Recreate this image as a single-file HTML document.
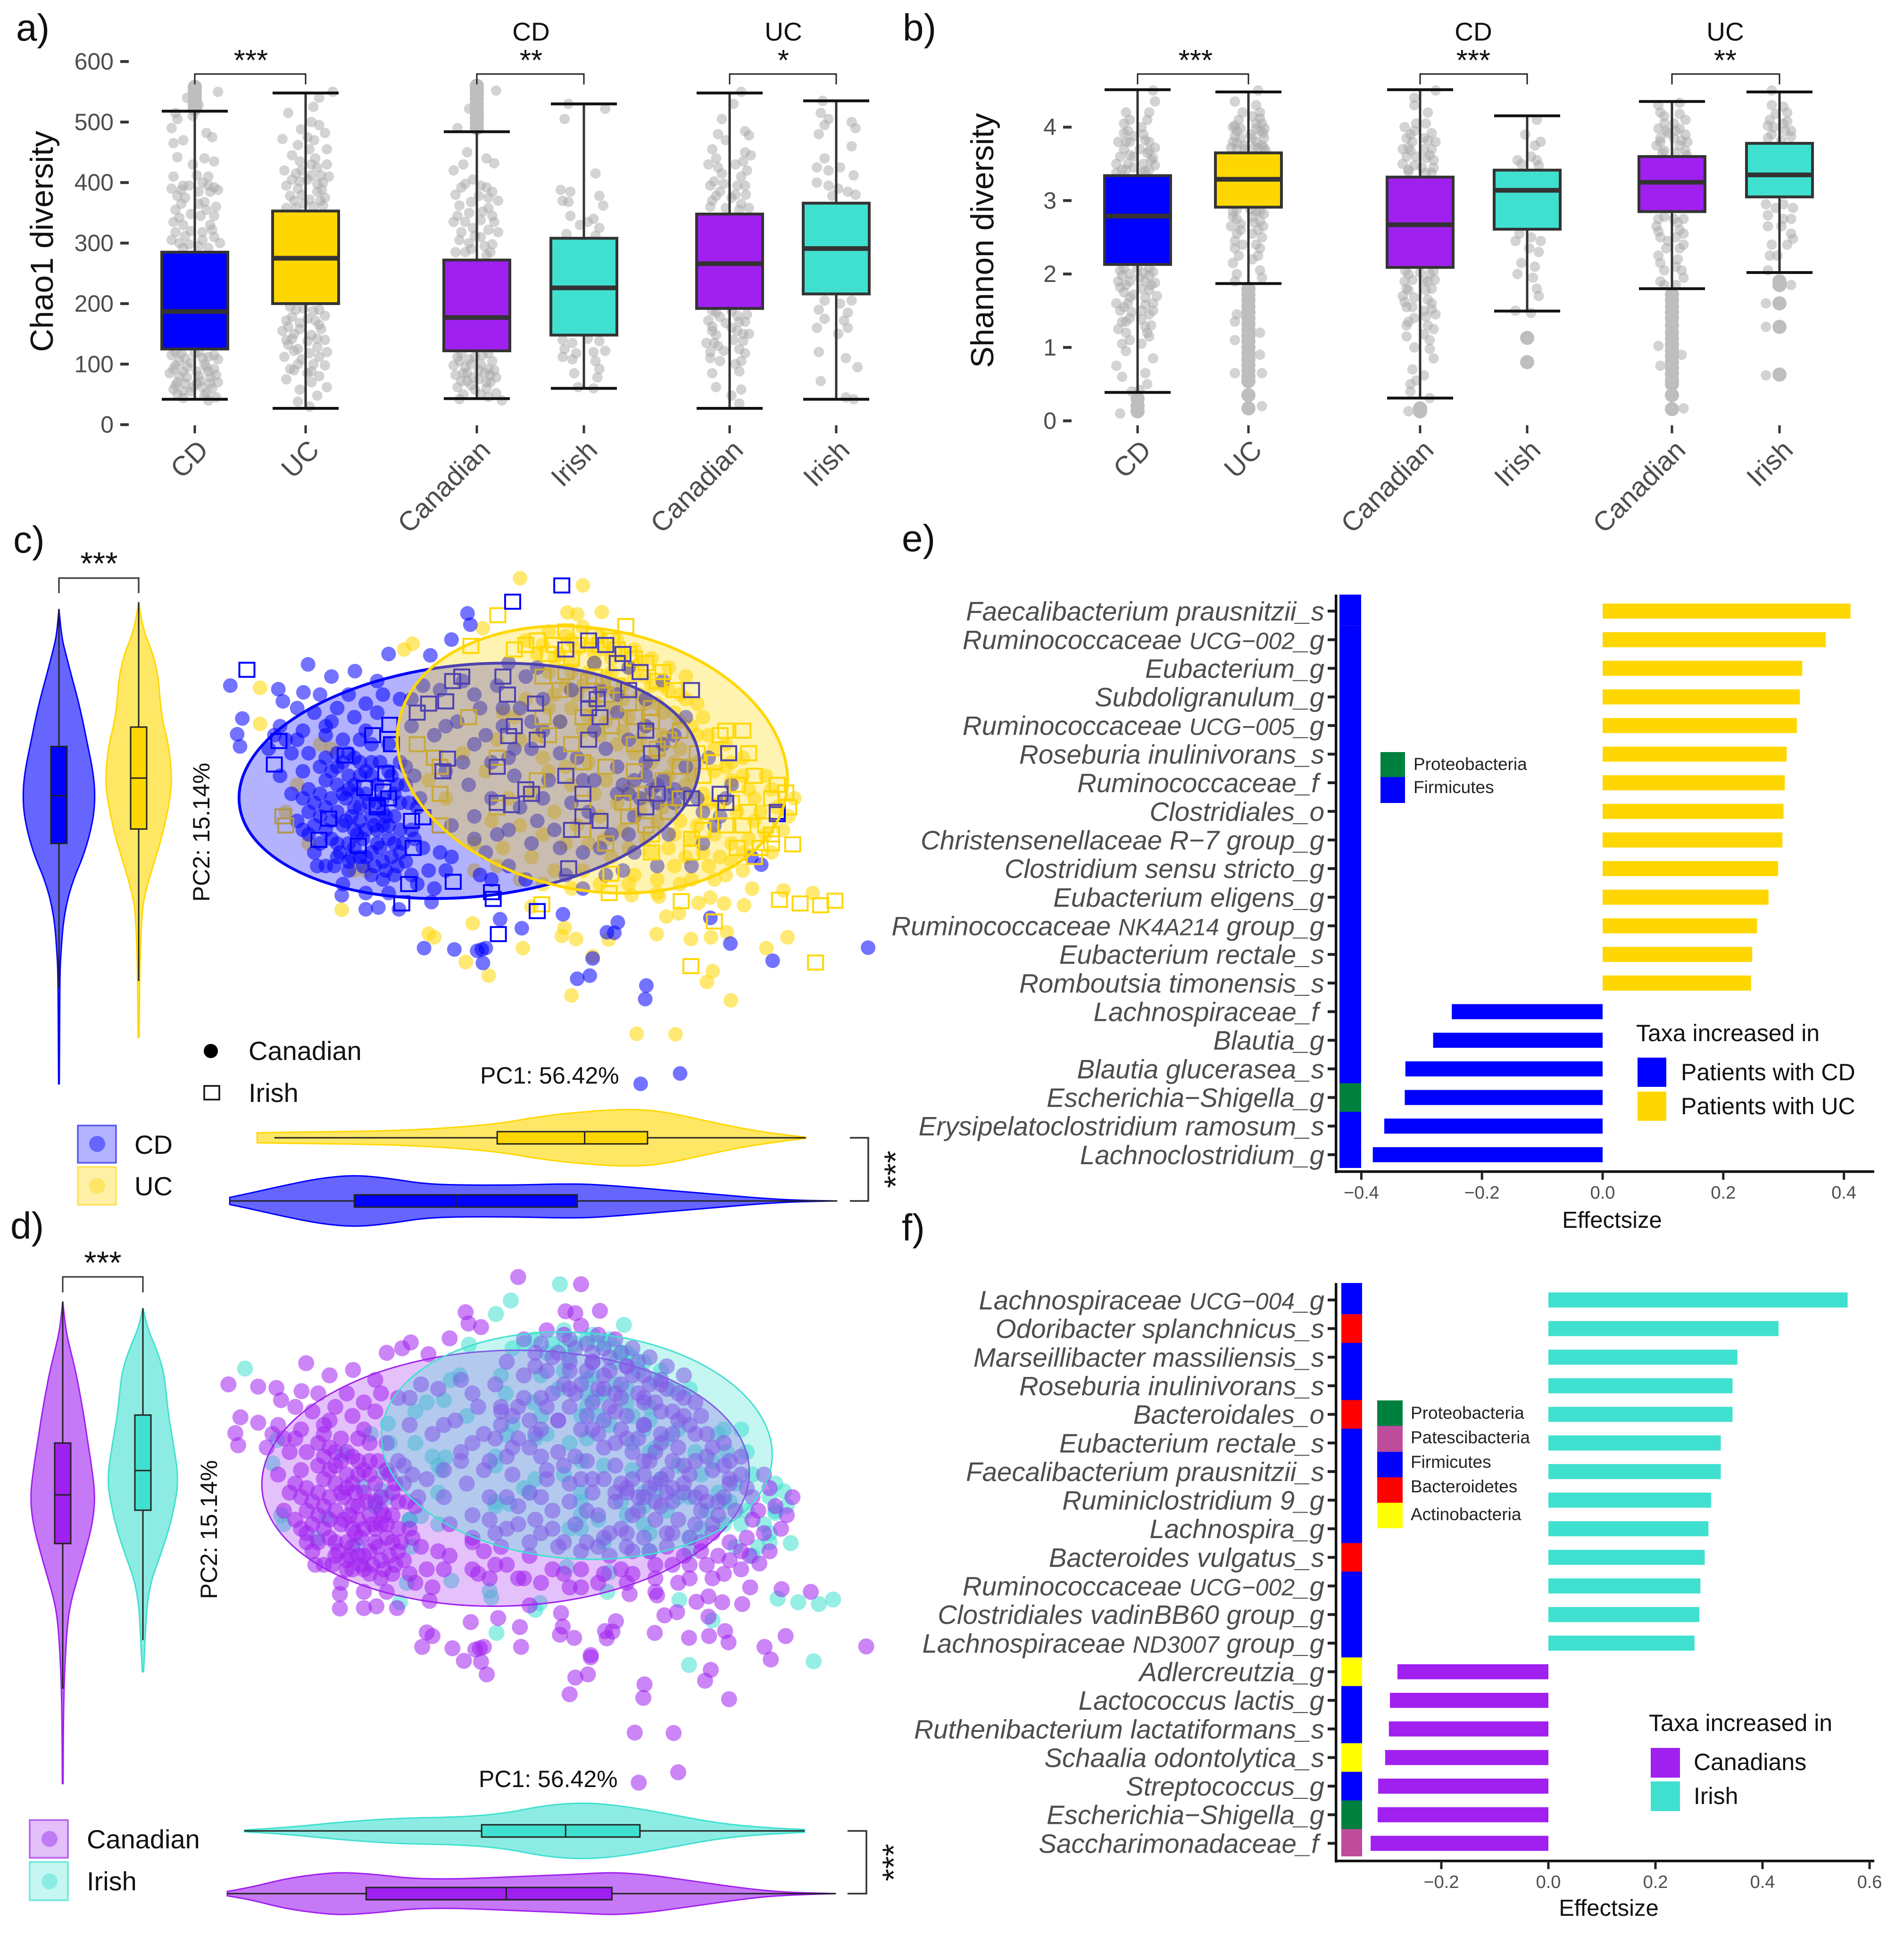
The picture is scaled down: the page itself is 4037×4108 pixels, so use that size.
<!DOCTYPE html>
<html lang="en">
<head>
<meta charset="utf-8">
<title>Diversity, PCoA and effect size figure</title>
<style>
html,body{margin:0;padding:0;background:#fff;}
svg{display:block;font-family:"Liberation Sans",sans-serif;}
.pl{font-size:80px;fill:#111;}
.gt{font-size:55px;fill:#111;text-anchor:middle;}
.st{font-size:62px;fill:#111;text-anchor:middle;}
.sl{font-size:68px;fill:#111;text-anchor:middle;}
.yt{font-size:68px;fill:#111;text-anchor:middle;}
.pc{font-size:50px;fill:#111;}
.lg{font-size:56px;fill:#111;}
.tx{font-size:37px;fill:#222;}
.ti{font-size:50px;fill:#111;}
.tl{font-size:50px;fill:#111;}
.ef{font-size:49px;fill:#111;text-anchor:middle;}
</style>
</head>
<body>
<svg id="fig" xmlns="http://www.w3.org/2000/svg" width="4037" height="4108" viewBox="0 0 4037 4108">
<rect width="4037" height="4108" fill="#fff"/>

<g id="panelA"></g>
<g id="panelB"></g>
<g id="panelC"></g>
<g id="panelD"></g>
<g id="panelE"></g>
<g id="panelF"></g>

<!-- panel letters -->
<text class="pl" x="34" y="86">a)</text>
<text class="pl" x="1914" y="86">b)</text>
<text class="pl" x="28" y="1172">c)</text>
<text class="pl" x="22" y="2627">d)</text>
<text class="pl" x="1912" y="1169">e)</text>
<text class="pl" x="1912" y="2631">f)</text>

<!-- a titles -->
<text class="yt" transform="translate(112,512) rotate(-90)">Chao1 diversity</text>
<text class="gt" x="1126" y="86">CD</text>
<text class="gt" x="1661" y="86">UC</text>
<text class="st" x="532" y="149">***</text>
<text class="st" x="1126" y="149">**</text>
<text class="st" x="1661" y="149">*</text>
<path d="M413 179V157H648V179" fill="none" stroke="#222" stroke-width="3"/>
<path d="M1011 179V157H1238V179" fill="none" stroke="#222" stroke-width="3"/>
<path d="M1547 179V157H1773V179" fill="none" stroke="#222" stroke-width="3"/>

<!-- b titles -->
<text class="yt" transform="translate(2106,510) rotate(-90)">Shannon diversity</text>
<text class="gt" x="3124" y="86">CD</text>
<text class="gt" x="3658" y="86">UC</text>
<text class="st" x="2535" y="149">***</text>
<text class="st" x="3124" y="149">***</text>
<text class="st" x="3658" y="149">**</text>
<path d="M2412 179V157H2647V179" fill="none" stroke="#222" stroke-width="3"/>
<path d="M3011 179V157H3238V179" fill="none" stroke="#222" stroke-width="3"/>
<path d="M3545 179V157H3773V179" fill="none" stroke="#222" stroke-width="3"/>

<!-- c annotations -->
<text class="sl" x="210" y="1218">***</text>
<path d="M125 1258V1226H294V1258" fill="none" stroke="#444" stroke-width="3.5"/>
<text class="pc" text-anchor="middle" transform="translate(444,1765) rotate(-90)">PC2: 15.14%</text>
<text class="pc" x="1018" y="2298">PC1: 56.42%</text>
<circle cx="447" cy="2229" r="15" fill="#000"/>
<text class="lg" x="527" y="2248">Canadian</text>
<rect x="433" y="2303" width="32" height="29" fill="none" stroke="#111" stroke-width="3.5"/>
<text class="lg" x="527" y="2337">Irish</text>
<rect x="165" y="2387" width="81" height="79" fill="#b3b3ff" stroke="#5a5af0" stroke-width="3.5"/>
<circle cx="206" cy="2426" r="17" fill="#6666ff"/>
<text class="lg" x="285" y="2447">CD</text>
<rect x="165" y="2475" width="81" height="80" fill="#fff0a8" stroke="#ffe25c" stroke-width="3.5"/>
<circle cx="206" cy="2515" r="17" fill="#ffe566"/>
<text class="lg" x="285" y="2535">UC</text>
<path d="M1802 2413H1841V2547H1802" fill="none" stroke="#333" stroke-width="3.5"/>
<text class="sl" transform="translate(1922,2480) rotate(-90)">***</text>

<!-- d annotations -->
<text class="sl" x="218" y="2701">***</text>
<path d="M133 2741V2708H303V2741" fill="none" stroke="#333" stroke-width="3"/>
<text class="pc" text-anchor="middle" transform="translate(460,3244) rotate(-90)">PC2: 15.14%</text>
<text class="pc" x="1015" y="3790">PC1: 56.42%</text>
<rect x="63" y="3860" width="81" height="80" fill="#e3c0fa" stroke="#b761f0" stroke-width="3.5"/>
<circle cx="105" cy="3900" r="17" fill="#c07af5"/>
<text class="lg" x="184" y="3920">Canadian</text>
<rect x="63" y="3949" width="81" height="81" fill="#c6f6f1" stroke="#6be8da" stroke-width="3.5"/>
<circle cx="105" cy="3990" r="17" fill="#8cece3"/>
<text class="lg" x="184" y="4009">Irish</text>
<path d="M1797 3883H1837V4016H1797" fill="none" stroke="#333" stroke-width="3.5"/>
<text class="sl" transform="translate(1918,3950) rotate(-90)">***</text>

<!-- e annotations -->
<text class="ef" x="3418" y="2604">Effectsize</text>
<rect x="2927" y="1595" width="52" height="53" fill="#00803f"/>
<rect x="2927" y="1648" width="52" height="55" fill="#0000ff"/>
<text class="tx" x="2997" y="1633">Proteobacteria</text>
<text class="tx" x="2997" y="1682">Firmicutes</text>
<text class="ti" x="3469" y="2208">Taxa increased in</text>
<rect x="3472" y="2243" width="61" height="62" fill="#0000ff"/>
<rect x="3472" y="2315" width="61" height="62" fill="#ffd700"/>
<text class="tl" x="3564" y="2291">Patients with CD</text>
<text class="tl" x="3564" y="2363">Patients with UC</text>

<!-- f annotations -->
<text class="ef" x="3411" y="4063">Effectsize</text>
<rect x="2920" y="2970" width="54" height="54" fill="#00803f"/>
<rect x="2920" y="3024" width="54" height="55" fill="#bf4b9b"/>
<rect x="2920" y="3079" width="54" height="54" fill="#0000ff"/>
<rect x="2920" y="3133" width="54" height="54" fill="#ff0000"/>
<rect x="2920" y="3187" width="54" height="54" fill="#ffff00"/>
<text class="tx" x="2991" y="3009">Proteobacteria</text>
<text class="tx" x="2991" y="3061">Patescibacteria</text>
<text class="tx" x="2991" y="3113">Firmicutes</text>
<text class="tx" x="2991" y="3165">Bacteroidetes</text>
<text class="tx" x="2991" y="3224">Actinobacteria</text>
<text class="ti" x="3496" y="3671">Taxa increased in</text>
<rect x="3500" y="3707" width="62" height="63" fill="#a020f0"/>
<rect x="3500" y="3778" width="62" height="63" fill="#40e0d0"/>
<text class="tl" x="3591" y="3754">Canadians</text>
<text class="tl" x="3591" y="3826">Irish</text>
</svg>

<script>
/* ---------- box plot data ---------- */
const groupLabels = ['CD','UC','Canadian','Irish','Canadian','Irish'];
const chaoTicks = [0,100,200,300,400,500,600];
const shannonTicks = [0,1,2,3,4];
const chaoLow = [42,27,43,60,27,42];
const chaoQ1 = [125,200,122,148,192,216];
const chaoMedian = [187,275,177,226,266,291];
const chaoQ3 = [285,353,272,308,348,366];
const chaoHigh = [518,548,484,530,548,535];
const shannonLow = [0.387,1.87,0.31,1.495,1.80,2.02];
const shannonQ1 = [2.13,2.91,2.09,2.61,2.85,3.05];
const shannonMedian = [2.79,3.29,2.67,3.14,3.25,3.35];
const shannonQ3 = [3.34,3.65,3.32,3.415,3.60,3.78];
const shannonHigh = [4.51,4.48,4.51,4.155,4.35,4.48];
const chaoOutliers = [[522,528,534,540,546,552,558],[],[490,498,506,514,522,530,538,546,554,560],[],[],[]];
const shannonOutliers = [[0.3,0.2,0.13],[1.8,1.72,1.64,1.56,1.48,1.4,1.32,1.24,1.16,1.08,1,0.92,0.84,0.76,0.68,0.6,0.54,0.35,0.17],[0.17,0.13],[1.13,0.8],[1.72,1.64,1.56,1.48,1.4,1.3,1.2,1.12,1.04,0.96,0.88,0.8,0.72,0.64,0.56,0.5,0.35,0.16],[1.9,1.85,1.6,1.28,0.63]];
const chaoJitter = [
[[-.5,515],[-.6,490],[-.55,465],[.3,482],[.45,475],[.6,550],[-.45,442],[-.2,540],[.1,528],[-.05,510],[.35,410],[.5,435],[-.55,410],[-.3,395],[.1,385],[.4,385],[.6,388],[-.6,390],[-.5,355],[-.35,365],[.25,368],[.55,360],[-.55,335],[-.3,330],[.15,345],[.4,330],[-.6,305],[-.4,300],[.2,305],[.5,310],[.65,300],[-.1,320],
[-.6,115],[-.35,118],[.1,120],[.35,112],[.6,108],[-.5,98],[-.2,95],[.25,100],[.5,92],[-.65,85],[-.4,80],[.05,88],[.4,78],[.6,70],[-.5,65],[-.25,68],[.15,72],[.45,60],[-.45,50],[-.1,55],[.25,48],[.55,45],[-.3,44],[.35,40],
[-.3,292],[-.15,298],[.1,295],[.35,292],[-.5,318],[-.25,312],[.2,318],[.45,322],[-.4,342],[-.1,348],[.3,355],[.5,345],[-.25,375],[.1,365],[-.45,378],[.35,395],[.5,392],[-.35,388],[-.15,395],[.05,412],[.2,400],[-.05,430],[.25,440],[-.3,470],[-.45,505],
[-.5,120],[-.25,110],[0,118],[.2,110],[.5,115],[-.4,105],[-.1,102],[.3,95],[-.55,92],[-.3,88],[.1,80],[.35,88],[.55,82],[-.2,78],[-.45,70],[.2,62],[.4,68],[-.05,62],[-.3,55],[.05,68],[.3,52],[-.55,58]],
[[.7,550],[.35,540],[.2,525],[-.45,515],[.15,500],[.35,495],[.5,482],[-.6,472],[-.2,462],[.05,475],[.25,440],[.55,455],[-.35,445],[-.15,435],[.3,425],[.55,430],[-.55,420],[-.25,415],[.05,405],[.45,400],[.6,410],[-.5,395],[-.2,390],[.3,385],[.5,375],[-.3,370],[.1,372],[.45,362],[-.5,358],
[-.25,190],[.2,188],[.5,180],[-.5,172],[-.15,168],[.35,165],[-.6,155],[-.3,150],[.15,148],[.5,140],[-.45,132],[-.2,125],[.3,128],[.55,120],[-.55,112],[-.1,108],[.2,100],[.5,98],[-.3,90],[.05,85],[.35,80],[-.5,75],[.15,70],[.55,62],[-.15,58],[.3,48],[-.2,38],[.1,30],
[-.1,420],[.15,430],[.4,412],[-.35,405],[.15,412],[.3,398],[-.15,402],[.42,388],[-.4,378],[-.05,365],[.2,360],[.38,370],[-.25,358],[-.1,380],[.1,455],[.22,470],[-.12,488],
[-.4,195],[-.05,192],[.35,190],[-.35,178],[.05,175],[.25,172],[-.45,162],[-.15,158],[.4,158],[-.35,142],[.05,138],[.3,142],[-.5,140],[-.3,122],[.1,118],[.35,112],[-.2,100],[-.4,92],[.15,88]],
[[.5,552],[-.2,522],[-.5,490],[.05,488],[-.25,450],[.25,440],[-.35,430],[.45,432],[-.6,420],[-.1,405],[.1,395],[-.4,392],[.4,385],[-.55,380],[.3,375],[-.15,368],[.55,370],[-.5,345],[-.2,350],[.15,352],[.4,345],[-.6,335],[-.1,325],[.3,322],[.55,318],[-.45,305],[-.2,300],[.1,310],[.4,298],[-.55,285],[-.3,285],[.25,280],
[-.5,112],[-.2,108],[.15,115],[.4,105],[-.6,98],[-.3,95],[.1,100],[.45,90],[-.55,82],[-.25,85],[.2,85],[.5,78],[-.4,72],[.05,75],[.35,70],[-.5,62],[-.15,65],[.25,60],[-.35,50],[.1,50],[.5,52],[-.45,42],[.65,40],
[-.3,398],[.05,378],[.25,392],[-.45,362],[.3,358],[-.3,335],[.1,338],[.45,335],[-.4,318],[-.05,312],[.2,295],[-.15,290],[.35,285],
[-.4,118],[-.05,112],[.3,118],[-.45,105],[-.15,100],[.3,92],[.05,90],[-.35,85],[.35,82],[-.1,78],[-.25,72],[.25,70],[-.05,58],[.3,46]],
[[-.4,530],[.55,522],[-.5,505],[.3,415],[-.6,388],[-.35,385],[-.55,370],[-.4,368],[.4,378],[.5,362],[.25,340],[-.35,345],[-.1,330],[.1,335],[.4,325],[-.45,315],[.3,312],
[-.55,140],[-.3,135],[.1,142],[.4,138],[-.5,125],[-.2,118],[.25,120],[.55,122],[-.55,112],[-.3,108],[.3,105],[.4,92],[-.25,85],[.35,78],[-.15,62],[.25,60]],
[[.3,550],[.1,530],[-.2,505],[-.3,480],[.4,485],[.5,478],[-.1,470],[-.45,455],[.4,450],[.55,445],[-.55,430],[-.3,425],[.45,420],[.3,410],[-.4,402],[.2,395],[-.25,385],[.05,375],[-.45,370],[.3,365],[.5,358],
[-.35,185],[.2,180],[-.55,172],[-.1,168],[.4,170],[-.45,155],[.2,155],[.5,150],[-.6,135],[-.3,130],[.35,138],[-.5,120],[.4,118],[-.25,105],[.15,100],[-.45,85],[.25,88],[-.35,62],[.3,58],[.05,48],[.25,35],
[-.35,440],[-.2,415],[.15,430],[.35,435],[-.5,395],[-.15,398],[.4,395],[-.35,378],[.15,380],[.42,380],[-.5,360],[-.1,358],[.25,355],
[-.45,188],[.05,188],[.45,182],[-.25,178],[.25,170],[-.45,162],[.05,160],[.35,150],[-.35,148],[.1,140],[-.4,135],[.25,125],[-.15,122],[-.5,110],[.3,105]],
[[-.35,535],[-.4,515],[-.2,505],[.4,500],[.5,490],[-.45,480],[-.3,495],[.4,460],[-.3,440],[-.5,425],[-.2,420],[.1,425],[.45,412],[-.5,400],[-.2,395],[.3,385],[.5,380],[-.1,378],[.05,390],
[-.3,205],[.1,200],[.4,205],[-.45,190],[.3,185],[-.3,175],[.2,172],[-.5,160],[.3,160],[.05,150],[-.45,120],[.25,110],[.55,95],[-.4,72],[.25,45],[.45,42]]
];
const shannonJitter = [
[[.4,4.5],[.45,4.35],[.3,4.2],[-.35,4.05],[-.25,3.95],[.15,3.9],[-.5,3.8],[-.2,3.8],[.3,3.8],[.45,3.72],[-.35,3.7],[.25,3.65],[-.45,3.6],[-.1,3.6],[.4,3.58],[-.55,3.5],[-.25,3.5],[.15,3.5],[.45,3.48],[-.4,3.42],[.3,3.42],[-.55,3.38],[.1,3.38],
[-.45,2.05],[-.2,2.0],[.15,2.02],[.4,2.03],[-.5,1.9],[-.3,1.85],[.2,1.9],[.45,1.88],[-.35,1.75],[-.1,1.72],[.3,1.78],[.5,1.7],[-.55,1.6],[-.25,1.6],[.2,1.58],[-.45,1.5],[-.15,1.48],[.4,1.5],[-.3,1.35],[.1,1.38],[.35,1.3],[-.5,1.25],[.25,1.2],[-.2,1.1],[.1,1.05],[-.3,.95],[.4,.85],[-.55,.75],[.2,.65],[-.4,.6],[.25,.5],[-.45,.1],[.05,.42],[-.15,.4],
[-.3,3.42],[-.1,3.45],[.2,3.4],[.35,3.55],[-.2,3.62],[.05,3.7],[.3,3.68],[-.3,3.8],[-.1,3.88],[.2,3.82],[-.35,3.92],[.1,4],[-.2,4.1],[.25,4.1],[-.3,4.2],
[-.35,2.08],[0,2.08],[.3,2.08],[-.4,1.98],[.05,1.95],[.3,1.98],[-.2,1.9],[.1,1.8],[.35,1.85],[-.45,1.82],[-.2,1.68],[.2,1.68],[.4,1.6],[-.35,1.55],[.1,1.5],[.3,1.45],[-.2,1.4],[-.4,1.35],[.2,1.28],[-.3,1.2],[.3,1.15],[-.4,1.05]],
[[.25,4.5],[-.35,4.35],[.2,4.3],[.3,4.2],[-.25,4.1],[.1,4.15],[.35,4.05],[-.4,4],[-.2,3.98],[.3,3.95],[-.35,3.88],[.05,3.9],[.4,3.85],[-.3,3.78],[.2,3.8],[.35,3.75],[-.45,3.72],[-.1,3.7],[.25,3.72],[.45,3.68],
[-.4,2.85],[.2,2.85],[.4,2.82],[-.3,2.75],[.1,2.78],[.3,2.72],[-.45,2.65],[-.2,2.6],[.25,2.6],[.35,2.5],[-.35,2.45],[.2,2.4],[-.35,2.35],[.25,2.25],[-.4,2.15],[.3,2.05],[-.3,2.0],[.35,1.95],[-.35,1.9],[-.3,1.45],[-.35,1.35],[.3,1.2],[-.35,1.1],[.3,.9],[-.35,.65],[.35,.65],[.35,.2],
[-.3,3.7],[-.1,3.75],[.15,3.72],[.4,3.72],[-.4,3.8],[-.2,3.85],[.1,3.85],[.38,3.92],[-.3,3.95],[.2,3.98],[.42,3.98],[-.35,4.02],[.2,4.05],[.3,4.12],[-.15,4.2],
[-.3,2.88],[.05,2.88],[.3,2.85],[-.4,2.78],[.15,2.7],[-.2,2.68],[.38,2.65],[-.3,2.55],[.1,2.55],[-.15,2.4],[.3,2.35],[-.25,2.25],[.1,2.2]],
[[.4,4.5],[-.15,4.4],[-.15,4.3],[.2,4.2],[-.4,4.0],[-.15,3.95],[.15,4.05],[-.35,3.85],[-.2,3.8],[.1,3.85],[.4,3.8],[-.45,3.7],[-.25,3.68],[.3,3.7],[-.35,3.6],[.15,3.58],[.35,3.55],[-.45,3.5],[-.15,3.48],[.35,3.45],[-.3,3.4],[.15,3.38],
[-.3,2.0],[.25,2.0],[-.4,1.9],[.2,1.9],[-.35,1.8],[.3,1.8],[-.45,1.7],[-.15,1.68],[.3,1.6],[-.35,1.55],[.1,1.5],[.4,1.45],[-.3,1.35],[.2,1.3],[.35,1.25],[-.35,1.15],[.25,1.1],[-.15,1.0],[.25,.98],[.35,.85],[-.2,.7],[.1,.62],[-.25,.5],[-.1,.55],[-.25,.4],[.25,.31],[-.3,.13],
[-.3,3.42],[.05,3.45],[.3,3.38],[-.1,3.6],[.25,3.62],[-.3,3.72],[.1,3.7],[.2,3.82],[-.25,3.9],[.3,3.92],[-.1,4.05],
[-.38,2.04],[0,2.02],[.35,2.04],[-.2,1.92],[.1,1.9],[.38,1.92],[-.3,1.78],[.15,1.78],[-.4,1.62],[.2,1.65],[-.2,1.55],[.3,1.52],[-.15,1.4],[.15,1.42],[-.35,1.3],[.1,1.18]],
[[.25,4.1],[-.05,3.9],[.35,3.8],[.2,3.75],[-.25,3.55],[.1,3.6],[.25,3.55],[-.15,3.5],[.3,3.48],
[-.2,2.55],[.1,2.5],[-.3,2.45],[.35,2.45],[.05,2.35],[.3,2.3],[-.15,2.15],[.2,2.1],[-.25,2.0],[.15,1.95],[.25,1.8],[.3,1.7],[-.3,1.5],[.1,1.47]],
[[-.35,4.3],[.2,4.33],[-.3,4.2],[.2,4.18],[.35,4.1],[-.2,4.05],[.05,4.05],[-.35,3.98],[-.15,3.95],[.2,3.98],[.35,3.9],[-.3,3.85],[.05,3.85],[.4,3.8],[-.4,3.75],[.2,3.75],[-.2,3.68],[.35,3.68],
[-.35,2.75],[.05,2.75],[.3,2.75],[-.4,2.65],[.2,2.6],[-.3,2.5],[.1,2.5],[.3,2.4],[-.15,2.35],[-.35,2.25],[.15,2.2],[-.2,2.05],[.25,2.05],[.3,1.95],[-.3,1.9],[.1,1.85],[-.35,1.02],[.25,.9],[-.3,.75],[.3,.17],
[-.25,3.65],[.1,3.65],[.38,3.62],[-.3,3.8],[.25,3.82],[-.1,3.92],[.1,3.95],[-.2,4.15],
[-.2,2.78],[.15,2.7],[-.35,2.58],[.3,2.55],[-.1,2.45],[.2,2.35],[-.3,2.15],[.1,2.1],[-.2,1.85]],
[[-.2,4.5],[-.2,4.3],[.1,4.28],[-.25,4.1],[.1,4.05],[.15,3.95],[-.15,4.0],[-.3,3.85],[.3,3.87],[.05,3.82],
[-.35,2.95],[.1,2.95],[.35,2.9],[-.3,2.8],[.1,2.75],[.3,2.75],[.05,2.65],[.3,2.55],[.35,2.48],[-.2,2.4],[-.25,2.25],[-.05,2.25],[-.3,2.05],[.3,1.85],[-.35,1.6],[-.35,1.28],[-.35,.62],
[.2,4.2],[-.1,4.18],[.2,4.08],[-.3,4.02],[.3,3.95],[-.2,3.9],[-.1,2.9],[-.3,2.65],[.2,2.4]]
];

/* ---------- ordination data (PC1, PC2 scores) ---------- */
const canadianCD = [
[-39.7,23],[-26.1,27.7],[-31.3,22.2],[-30.5,19.5],[-26.9,21.5],[-17.9,26.2],[-12,30],[-4.7,29.7],[-1,33.2],[1.8,39],[2.3,36.5],[-37.6,15.7],[-38.5,12.2],[-38,9.5],[71.9,-35.1],[32.1,-65.3],[39,-63],[33.1,-43.5],[32.9,-46.5],[21,-42],[23.2,-41.3],[23.7,-37.5],[55.2,-38],[47.8,-34.2],[44.3,-28.5],[28.1,-29.5],[27.5,-31.8],[26.2,-31.7],[18.5,-27.7],[11.3,-30.8],[7.5,-28.8],[4.3,-35.5],[5,-35.2],[3.5,-35.8],[4.5,-38.5],[-.5,-35.5],[-5.8,-35.2],[-10.2,-26.6],[-13.8,-26.2],[-16,-26.6],[-4.5,-25],[-20.2,-23.5],[53.2,-16.7],[51.5,-15],
[-33,9],[-31,14],[-29,8],[-27,13],[-25,17],[-22,15],[-20,11],[-18,7],[-16,13],[-14,17],[-12,10],[-10,6],[-8,14],[-31,3],[-29,-1],[-27,4],[-25,-3],[-23,2],[-21,-5],[-19,0],[-17,-4],[-15,3],[-13,-2],[-11,-6],[-9,1],[-7,-4],[-28,-7],[-26,-10],[-24,-6],[-22,-11],[-20,-8],[-18,-13],[-16,-9],[-14,-12],[-12,-8],[-10,-14],[-8,-9],[-25,-14],[-23,-17],[-21,-15],[-19,-18],[-17,-15],[-15,-19],[-13,-16],[-11,-19],[-9,-16],[-7,-21],[-5,-18],[-20,-21],[-16,-23],[-12,-23],[-3,-14],[-4,-22],[-24,5],[-23,7],[-22,4],[-20,6],[-19,3],[-18,1],[-17,6],[-16,-1],[-15,-6],[-14,-3],[-13,-8],[-12,-11],[-18,-9],[-16,-15],[-19,-12],[-21,-12],[-22,-2],[-24,-1],[-26,0],[-20,-1],[-17,-7],[-14,-9],[-11,-12],[-13,-5],[-10,-3],[-12,4],[-24,-12],[-27,-2],[-15,10],[-17,11],[-21,8],[-23,12],[-19,-16],[-13,-20],[-8,-19],[-22,-7],[-18,-4],[-14,1],[-10,-9],[-6,-13],[-15,-14],[-23,-9],[-11,-1],[-16,4],[-21,1],[-26,-5],
[-3,22],[1,24],[4,18],[7,23],[-4,12],[0,15],[3,10],[8,14],[-2,4],[2,1],[6,6],[10,3],[-1,-8],[3,-6],[7,-10],[11,-4],[-2,-18],[4,-19],[9,-17],[13,-12],[5,-14],[15,20],[13,9],[18,15],[21,7],[16,2],[20,-3],[17,-9],[12,-20],[22,-14],[19,-19],[25,22],[28,17],[26,9],[30,11],[24,2],[28,-1],[33,6],[31,-6],[35,1],[38,-3],[27,-10],[31,-14],[22,-22],[36,10],[40,5],[42,-2],[37,-10],[43,-12],[45,-8],[41,-17],[47,-2],[40,16],[33,20],[30,27],[36,24],[24,28],[14,27],[9,28],[29,-18],[26,-19],[35,-17],
[-19.5,-2],[-18.5,-6],[-17.5,-1],[-16.5,-11],[-15.5,-3],[-14.5,-8],[-13.5,-13],[-12.5,-6],[-11.5,-15],[-17.5,-10],[-19.5,-7],[-20.5,-14],[-18.5,-15],[-16.5,-17],[-14.5,-17],[-12.5,-18],[-10.5,-17],[-9.5,-12],[-8.5,-3],[-7.5,-11],[-6.5,-2],[-7.5,3],[-9,5],[-10.5,1],[-11.5,3],[-13.5,6],[-15,6],[-17,3],[-19,8],[-21,5],[-23,-4],[-25,-8],[-27,-9],[-21.5,-17],[-24.5,-17],[-23,14],[-26,8],[-28,11],[-30,11],[-32,12],[-18,16],[-21,18],[-16,19],[-13,21],[-10,20],[-8,20],[-6,23],[-28,18],[-24,21],[-19,21],[-14,24],[-22,25],
[12,25],[11,18],[8,18],[3,21],[-2,14],[1,6],[5,12],[10,9],[15,13],[15,-2],[9,7],[6,-2],[3,-11],[9,-9],[14,-7],[18,-13],[-1,-15],[6,-20],[23,-5],[25,-13],[30,-10],[28,5],[31,2],[33,3],[35,-3],[37,-1],[29,1],[32,-2],[34,0],[36,2],[38,0],[30,-1],[40,-1],[43,-5],[46,-6],[48,1],[44,7],[38,12],[33,14],[28,21],[20,22],[24,13],[18,8],[13,15],[22,2]
];
const canadianUC = [
[11,46.8],[22,45.2],[25.3,39.3],[19.3,39.2],[21,38.8],[4.5,35.7],[-7.8,32.3],[-9.3,31],[-34.5,22.5],[-34.5,14.5],[-20.2,-26.7],[31.4,-54.2],[38.2,-54.3],[20,-45.7],[5.5,-41.3],[1.5,-38.3],[11.5,-35.2],[2.7,-29.7],[-5,-32],[-4,-32.8],[18.8,-30.7],[18.3,-32.5],[20.8,-33.2],[26.5,-33.3],[23.7,-37],[34.9,-32.1],[40.9,-33.2],[44.4,-32.8],[47.2,-31.7],[44.7,-40.3],[43.7,-42.7],[47.9,-46.8],[54.1,-35.2],[57.8,-32.8],[51.6,-22],[57.1,-22.4],[62.2,-23],[50.2,-25.7],[46.7,-25.3],[44.3,-24],[42.2,-25.2],[38.8,-27.5],[36.6,-28.2],[35.3,-23.8],[30.5,-23.5],[13,-26],
[12,33],[16,35],[19,34],[22,36],[25,34],[28,33],[31,31],[34,29],[37,27],[40,25],[14,30],[18,30],[21,31],[24,30],[27,29],[30,27],[33,25],[36,23],[39,21],[42,19],[16,26],[20,26],[23,26],[26,25],[29,23],[32,21],[35,19],[38,17],[41,14],[44,12],[47,10],[50,7],[17,21],[21,21],[24,19],[27,18],[30,16],[33,14],[36,12],[39,9],[42,6],[45,4],[48,2],[51,0],[54,3],[56,-4],[18,15],[22,13],[25,12],[28,10],[31,8],[34,6],[37,3],[40,1],[43,-1],[46,-3],[49,-5],[52,-7],[54,-10],[57,-9],[14,12],[15,7],[19,5],[23,6],[26,2],[30,0],[33,-2],[36,-4],[39,-7],[42,-8],[45,-10],[48,-12],[50,-14],[10,16],[7,11],[5,4],[9,-2],[13,-1],[17,-5],[21,-8],[25,-6],[29,-9],[33,-11],[37,-13],[40,-15],[44,-17],[47,-19],[6,-7],[3,-12],[8,-13],[13,-15],[17,-18],[22,-18],[27,-15],[31,-19],[35,-20],[39,-21],[-22,9],[-24,10],[-28,1],[-30,-5],[-18,-18],[-26,-12],[-16,-18],[1,8],[-2,-2],[3,-18],[-5,2],
[15,32],[17,29],[20,33],[23,32],[26,31],[29,30],[32,28],[20,28],[24,28],[27,26],[31,25],[34,23],[37,22],[40,20],[43,16],[19,23],[22,23],[26,22],[29,20],[33,19],[36,17],[39,15],[42,12],[45,9],[48,6],[50,3],[52,-2],[55,0],[53,-5],[47,5],[44,-3],[41,3],[38,6],[35,8],[32,11],[29,13],[26,15],[23,16],[20,18],[16,18],[12,20],[8,17],[11,11],[16,4],[20,1],[24,-1],[28,-3],[32,-5],[35,-7],[38,-10],[41,-11],[43,-14],[46,-15],[48,-16],[51,-11],[55,-14],[58,-6],[59,-2],[38,-17],[34,-14],[30,-13],[26,-11],[23,-12],[19,-12],[15,-10],[11,-8],[7,-17],[11,-20],[15,-21],[20,-22],[25,-21],[30,-21],[35,-23],[41,-20],[45,-20],[50,-18]
];
const irishCD = [
[-36.8,26.5],[18.3,45.2],[9.7,41.6],[7.2,-32.1],[-9.7,-25.3],[6,-22.8],[6.3,-24.3],[-8.5,-21],[-.7,-20.5],[56,-5.5],
[-31.2,10.7],[-32,5.5],[-19.6,7.5],[-14.8,12],[-11.8,14.3],[-11.5,10],[-12.5,3.5],[-16.2,0.3],[-13,-0.5],[-12,-2],[-14,-3.5],[-22.5,-6.5],[-24.2,-11.2],[-17.3,-12.5],[-14,-4],[-6,-6.2],[-7.7,-13],
[-0.8,24],[-2,19.5],[-5,19],[-7,17],[0.8,25],[8,25],[8.8,21],[13.7,19],[14,-27],
[-1.7,6.8],[-2.5,4],[7,5],[10,14],[9,11.8],[14,11],[12,0],[13,-1],[7,-3],[9.5,-3.5],[-8,-7],
[19,3],[22,-1],[22,-6],[20,-9],[23,11],[25,-7],[19.5,-17.5],[25,16],[23,18],[24.5,20],[23,21],[19,31],[23,33],[26,32],[29,30],[32,26],[28,28],[30,22],[33,13],[41,22],[34,8],[35,-1],[33,-4],[47,-3],[47.5,8],[46,-1],[41,-2],[56,-5]
];
const irishUC = [
[7.1,38.6],[2.4,31.8],[29.5,36.2],[40.9,-39.2],[62.7,-38.4],[56.4,-24.5],[60,-25.3],[63.6,-25.7],[66.1,-24.7],[58.7,-12.2],[57.5,-.7],[45,-29.3],[39.2,-24.8],[14.8,-25.5],[26.6,-23],[26.9,-18.7],
[-30.5,-6],[-8,-7],[-30,-8],
[10,31],[14,33],[17,32],[19,35],[24,34],[27,33],[30,30],[33,28],[36,26],[38,22],[20,29],[15,25],[18,22],[24,25],[28,23],[31,16],[34,18],[39,13],[15,16],[22,16],[27,14],[31,10],[35,9],[39,5],[43,3],[46,12],[50,13],[52,3],[55,-2],[51,-5],[49,-13],[53,-13],[48,-3],[44,-5],[41,-11],[37,-5],[33,-1],[29,-3],[22,6],[14,2],[7,-4],[-3,-1],[-4,7],[-7,10],[-8,-7],[2,16],[22,-3],[22,-9],[33,-8],[34,-14],[41,-14],[-3,5],[7,7],[-3,-8],
[12,32],[16,30],[21,32],[25,32],[28,31],[31,29],[35,24],[19,26],[23,24],[26,21],[30,19],[34,15],[37,11],[42,8],[45,6],[49,1],[54,-8],[52,-15],[55,-12],[50,-8],[47,-8],[43,-9],[39,-2],[36,2],[31,4],[26,5],[20,10],[16,12],[34,-10],[30,-6],[26,-12],[55,-10],[58,-4],[56,1],[51,8],[47,13]
];

/* ---------- violin data ---------- */
const pc2GridCD = [40,34,30,25,20,15,10,5,0,-5,-10,-15,-20,-25,-30,-35,-40,-50,-65.3];
const pc2DensityCD = [0,.07,.2,.37,.55,.7,.83,.97,1.05,1.03,.9,.7,.42,.23,.12,.07,.03,.02,.01];
const pc2GridUC = [41.5,38,34,30,25,20,15,10,3,-2,-10,-15,-20,-25,-30,-40,-55];
const pc2DensityUC = [0,.07,.2,.42,.57,.62,.7,.87,.97,.92,.7,.5,.3,.13,.08,.03,.015];
const pc2BoxCD = [-44,-12,-1.4,9.5,40];
const pc2BoxUC = [-42.5,-8.8,2.5,13.8,41.5];
const pc1GridCD = [-39.8,-37,-30,-24,-18,-12,-6,0,10,20,26,35,45,53,60,66.5];
const pc1DensityCD = [.13,.25,.58,.83,.95,.83,.63,.58,.58,.63,.58,.42,.25,.1,.02,0];
const pc1GridUC = [-35,-32,-10,6,15,23,30,36,45,53,61];
const pc1DensityUC = [.18,.2,.25,.47,.8,.97,1.05,.97,.55,.22,.02];
const pc1BoxCD = [-39.8,-18,0,21,66.5];
const pc1BoxUC = [-32,7,22.3,33.3,61];
const pc2GridCanadian = [41.4,35.5,31.3,26.2,21,15.9,10.7,5.5,-1.7,-7.9,-15.1,-20.3,-25.4,-30.6,-40.9,-51.2,-65.5];
const pc2DensityCanadian = [0,.08,.2,.37,.5,.62,.72,.83,.95,.87,.62,.42,.23,.13,.05,.02,.01];
const pc2GridIrish = [39.9,35.5,31.3,26.2,21,15.9,10.7,1.9,-4.8,-9.9,-15.1,-20.3,-25.4,-30.6,-40.7];
const pc2DensityIrish = [0,.13,.37,.6,.68,.75,.87,1.05,.9,.73,.5,.25,.13,.08,.02];
const pc2BoxCanadian = [-44.5,-12.3,-1.5,10,41.4];
const pc2BoxIrish = [-33.7,-4.9,3.9,16.2,39.9];
const pc1GridIrish = [-36.9,-29.7,-19.7,-9.7,.3,8.3,15.3,21.3,27.3,35.3,45.3,53.3,61.1];
const pc1DensityIrish = [.03,.12,.33,.47,.5,.63,.92,1.03,.97,.7,.3,.13,.05];
const pc1GridCanadian = [-39.9,-35.7,-29.7,-23.7,-19.7,-13.7,-7.7,.3,10.3,20.3,27.3,33.3,40.3,50.3,57.3,66.6];
const pc1DensityCanadian = [.08,.23,.55,.72,.78,.7,.55,.53,.62,.7,.78,.7,.5,.2,.05,0];
const pc1BoxIrish = [-36.9,4.6,19.3,32.3,61.1];
const pc1BoxCanadian = [-39.9,-15.6,8.9,27.4,66.6];

/* ---------- effect size data ---------- */
const taxaE = ['Faecalibacterium prausnitzii_s','Ruminococcaceae UCG−002_g','Eubacterium_g','Subdoligranulum_g','Ruminococcaceae UCG−005_g','Roseburia inulinivorans_s','Ruminococcaceae_f','Clostridiales_o','Christensenellaceae R−7 group_g','Clostridium sensu stricto_g','Eubacterium eligens_g','Ruminococcaceae NK4A214 group_g','Eubacterium rectale_s','Romboutsia timonensis_s','Lachnospiraceae_f','Blautia_g','Blautia glucerasea_s','Escherichia−Shigella_g','Erysipelatoclostridium ramosum_s','Lachnoclostridium_g'];
const effectE = [.411,.370,.331,.327,.322,.305,.302,.300,.298,.291,.275,.256,.248,.246,-.25,-.281,-.327,-.328,-.362,-.381];
const phylumE = ['F','F','F','F','F','F','F','F','F','F','F','F','F','F','F','F','F','P','F','F'];
const ticksE = [-.4,-.2,0,.2,.4];
const taxaF = ['Lachnospiraceae UCG−004_g','Odoribacter splanchnicus_s','Marseillibacter massiliensis_s','Roseburia inulinivorans_s','Bacteroidales_o','Eubacterium rectale_s','Faecalibacterium prausnitzii_s','Ruminiclostridium 9_g','Lachnospira_g','Bacteroides vulgatus_s','Ruminococcaceae UCG−002_g','Clostridiales vadinBB60 group_g','Lachnospiraceae ND3007 group_g','Adlercreutzia_g','Lactococcus lactis_g','Ruthenibacterium lactatiformans_s','Schaalia odontolytica_s','Streptococcus_g','Escherichia−Shigella_g','Saccharimonadaceae_f'];
const effectF = [.559,.430,.353,.344,.344,.322,.322,.304,.299,.292,.284,.282,.273,-.282,-.296,-.298,-.305,-.318,-.319,-.332];
const phylumF = ['F','B','F','F','B','F','F','F','F','B','F','F','F','A','F','F','A','F','P','T'];
const ticksF = [-.2,0,.2,.4,.6];

/* ---------- helpers ---------- */
const NS = 'http://www.w3.org/2000/svg';
function mk(parent, tag, attrs, name) {
  const el = document.createElementNS(NS, tag);
  for (const k in attrs) el.setAttribute(k, attrs[k]);
  
  
  parent.appendChild(el);
  return el;
}
const GREY = '#4d4d4d';
const DARK = '#333';

/* ---------- box panels ---------- */
function boxPanel(g, opt) {
  const y = opt.y;
  opt.ticks.forEach(function (t) {
    mk(g, 'rect', {x: opt.tickX, y: y(t) - 3, width: 18, height: 6, fill: DARK}, 'y-tick-' + t);
    const lb = mk(g, 'text', {x: opt.tickX - 14, y: y(t) + 17, 'text-anchor': 'end', 'font-size': 50, fill: GREY}, 'y-tick-label-' + t);
    lb.textContent = t;
  });
  groupLabels.forEach(function (label, i) {
    const cx = opt.centers[i];
    (opt.jitter[i]).forEach(function (p) {
      mk(g, 'circle', {cx: cx + p[0] * 82, cy: y(p[1]), r: 11, fill: '#a8a8a8', 'fill-opacity': .5}, 'jitter-point');
    });
    (opt.outliers[i]).forEach(function (v) {
      mk(g, 'circle', {cx: cx, cy: y(v), r: 15, fill: '#bebebe'}, 'outlier-point');
    });
    mk(g, 'line', {x1: cx, x2: cx, y1: y(opt.low[i]), y2: y(opt.high[i]), stroke: DARK, 'stroke-width': 5}, 'whisker-' + i);
    mk(g, 'line', {x1: cx - 70, x2: cx + 70, y1: y(opt.low[i]), y2: y(opt.low[i]), stroke: '#111', 'stroke-width': 6}, 'whisker-cap-low-' + i);
    mk(g, 'line', {x1: cx - 70, x2: cx + 70, y1: y(opt.high[i]), y2: y(opt.high[i]), stroke: '#111', 'stroke-width': 6}, 'whisker-cap-high-' + i);
    mk(g, 'rect', {x: cx - 70, y: y(opt.q3[i]), width: 140, height: y(opt.q1[i]) - y(opt.q3[i]), fill: opt.colors[i], stroke: DARK, 'stroke-width': 6}, 'box-' + i);
    mk(g, 'line', {x1: cx - 70, x2: cx + 70, y1: y(opt.median[i]), y2: y(opt.median[i]), stroke: DARK, 'stroke-width': 10}, 'median-' + i);
    mk(g, 'rect', {x: cx - 2.5, y: 902, width: 5, height: 17, fill: DARK}, 'x-tick-' + i);
    const t = mk(g, 'text', {'text-anchor': 'end', 'font-size': 58, fill: GREY, transform: 'translate(' + (cx + 32) + ',958) rotate(-45)'}, 'x-tick-label-' + i);
    t.textContent = label;
  });
}
const boxColors = ['#0000ff','#ffd700','#a020f0','#40e0d0','#a020f0','#40e0d0'];
boxPanel(document.getElementById('panelA'), {
  y: function (v) { return 900.6 - 1.2835 * v; }, ticks: chaoTicks, tickX: 255,
  centers: [413,648,1011,1238,1547,1773], colors: boxColors, jitter: chaoJitter, outliers: chaoOutliers,
  low: chaoLow, q1: chaoQ1, median: chaoMedian, q3: chaoQ3, high: chaoHigh
});
boxPanel(document.getElementById('panelB'), {
  y: function (v) { return 892.5 - 155.7 * v; }, ticks: shannonTicks, tickX: 2254,
  centers: [2412,2647,3011,3238,3545,3773], colors: boxColors, jitter: shannonJitter, outliers: shannonOutliers,
  low: shannonLow, q1: shannonQ1, median: shannonMedian, q3: shannonQ3, high: shannonHigh
});

/* ---------- violins ---------- */
function smooth(pts) {
  let d = 'L' + pts[0][0] + ' ' + pts[0][1];
  for (let i = 1; i < pts.length - 1; i++) {
    const mx = (pts[i][0] + pts[i + 1][0]) / 2, my = (pts[i][1] + pts[i + 1][1]) / 2;
    d += 'Q' + pts[i][0] + ' ' + pts[i][1] + ' ' + mx + ' ' + my;
  }
  const l = pts[pts.length - 1];
  return d + 'L' + l[0] + ' ' + l[1];
}
function vViolin(g, cx, y, grid, dens, box, color, name) {
  const k = 72.7;
  const right = grid.map(function (v, i) { return [cx + dens[i] * k, y(v)]; });
  const left = grid.map(function (v, i) { return [cx - dens[i] * k, y(v)]; }).reverse();
  mk(g, 'path', {d: 'M' + right[0][0] + ' ' + right[0][1] + smooth(right) + smooth(left) + 'Z', fill: color, 'fill-opacity': .6, stroke: color, 'stroke-width': 3}, name + '-violin');
  mk(g, 'line', {x1: cx, x2: cx, y1: y(box[4]), y2: y(box[0]), stroke: '#222', 'stroke-width': 3}, name + '-whisker');
  mk(g, 'rect', {x: cx - 17, y: y(box[3]), width: 34, height: y(box[1]) - y(box[3]), fill: color, stroke: '#222', 'stroke-width': 3}, name + '-box');
  mk(g, 'line', {x1: cx - 17, x2: cx + 17, y1: y(box[2]), y2: y(box[2]), stroke: '#222', 'stroke-width': 3}, name + '-median');
}
function hViolin(g, cy, x, grid, dens, box, color, name) {
  const k = 58;
  const top = grid.map(function (v, i) { return [x(v), cy - dens[i] * k]; });
  const bot = grid.map(function (v, i) { return [x(v), cy + dens[i] * k]; }).reverse();
  mk(g, 'path', {d: 'M' + top[0][0] + ' ' + top[0][1] + smooth(top) + smooth(bot) + 'Z', fill: color, 'fill-opacity': .6, stroke: color, 'stroke-width': 3}, name + '-violin');
  mk(g, 'line', {x1: x(box[0]), x2: x(box[4]), y1: cy, y2: cy, stroke: '#222', 'stroke-width': 3}, name + '-whisker');
  mk(g, 'rect', {x: x(box[1]), y: cy - 13, width: x(box[3]) - x(box[1]), height: 26, fill: color, stroke: '#222', 'stroke-width': 3}, name + '-box');
  mk(g, 'line', {x1: x(box[2]), x2: x(box[2]), y1: cy - 13, y2: cy + 13, stroke: '#222', 'stroke-width': 3}, name + '-median');
}

/* ---------- panel C ---------- */
(function () {
  const g = document.getElementById('panelC');
  const x = function (v) { return 969.4 + 12.117 * v; };
  const y = function (v) { return 1674 - 9.566 * v; };
  function dots(list, color, name) {
    list.forEach(function (p) {
      mk(g, 'circle', {cx: x(p[0]), cy: y(p[1]), r: 15.5, fill: color, 'fill-opacity': .55}, name);
    });
  }
  function squares(list, color, name) {
    list.forEach(function (p) {
      mk(g, 'rect', {x: x(p[0]) - 16, y: y(p[1]) - 15, width: 32, height: 30, fill: 'none', stroke: color, 'stroke-width': 4}, name);
    });
  }
  dots(canadianUC, '#ffd700', 'point-uc-canadian');
  dots(canadianCD, '#0000ff', 'point-cd-canadian');
  squares(irishUC, '#ffd700', 'point-uc-irish');
  squares(irishCD, '#0000ff', 'point-cd-irish');
  mk(g, 'ellipse', {cx: 995, cy: 1656, rx: 490, ry: 246, transform: 'rotate(-5.7 995 1656)', fill: '#0000ff', 'fill-opacity': .3, stroke: '#0000ff', 'stroke-width': 6}, 'ellipse-cd');
  mk(g, 'ellipse', {cx: 1256, cy: 1611, rx: 418, ry: 277, transform: 'rotate(11 1256 1611)', fill: '#ffd700', 'fill-opacity': .3, stroke: '#ffd700', 'stroke-width': 6}, 'ellipse-uc');
  vViolin(g, 125, y, pc2GridCD, pc2DensityCD, pc2BoxCD, '#0000ff', 'pc2-cd');
  vViolin(g, 294, y, pc2GridUC, pc2DensityUC, pc2BoxUC, '#ffd700', 'pc2-uc');
  hViolin(g, 2413, x, pc1GridUC, pc1DensityUC, pc1BoxUC, '#ffd700', 'pc1-uc');
  hViolin(g, 2547, x, pc1GridCD, pc1DensityCD, pc1BoxCD, '#0000ff', 'pc1-cd');
})();

/* ---------- panel D ---------- */
(function () {
  const g = document.getElementById('panelD');
  const x = function (v) { return 965.4 + 12.117 * v; };
  const y = function (v) { return 3156 - 9.566 * v; };
  function dots(list, color, name) {
    list.forEach(function (p) {
      mk(g, 'circle', {cx: x(p[0]), cy: y(p[1]), r: 17, fill: color, 'fill-opacity': .55}, name);
    });
  }
  dots(irishCD, '#40e0d0', 'point-irish');
  dots(irishUC, '#40e0d0', 'point-irish');
  dots(canadianUC, '#a020f0', 'point-canadian');
  dots(canadianCD, '#a020f0', 'point-canadian');
  mk(g, 'ellipse', {cx: 1072, cy: 3135, rx: 517, ry: 271, transform: 'rotate(-2 1072 3135)', fill: '#a020f0', 'fill-opacity': .28, stroke: '#a020f0', 'stroke-width': 3}, 'ellipse-canadian');
  mk(g, 'ellipse', {cx: 1223, cy: 3066, rx: 415, ry: 240, transform: 'rotate(4 1223 3066)', fill: '#40e0d0', 'fill-opacity': .3, stroke: '#40e0d0', 'stroke-width': 3}, 'ellipse-irish');
  vViolin(g, 133, y, pc2GridCanadian, pc2DensityCanadian, pc2BoxCanadian, '#a020f0', 'pc2-canadian');
  vViolin(g, 303, y, pc2GridIrish, pc2DensityIrish, pc2BoxIrish, '#40e0d0', 'pc2-irish');
  hViolin(g, 3883, x, pc1GridIrish, pc1DensityIrish, pc1BoxIrish, '#40e0d0', 'pc1-irish');
  hViolin(g, 4016, x, pc1GridCanadian, pc1DensityCanadian, pc1BoxCanadian, '#a020f0', 'pc1-canadian');
})();

/* ---------- effect size panels ---------- */
const phylumColors = {F: '#0000ff', P: '#00803f', B: '#ff0000', A: '#ffff00', T: '#bf4b9b'};
function effectPanel(g, opt) {
  const x = function (v) { return opt.zero + opt.slope * v; };
  const rowY = function (i) { return opt.firstRow + opt.rowGap * i; };
  opt.taxa.forEach(function (label, i) {
    const v = opt.values[i];
    const y = rowY(i);
    mk(g, 'rect', {x: opt.stripX, y: i === 0 ? opt.top : y - opt.rowGap / 2, width: opt.stripW, height: i === 0 ? y + opt.rowGap / 2 - opt.top : (i === opt.taxa.length - 1 ? opt.stripEnd - (y - opt.rowGap / 2) : opt.rowGap + .6), fill: phylumColors[opt.phyla[i]]}, 'phylum-strip-' + i);
    mk(g, 'rect', {x: Math.min(x(0), x(v)), y: y - 16, width: Math.abs(x(v) - x(0)), height: 32, fill: v >= 0 ? opt.posColor : opt.negColor}, 'bar-' + i);
    mk(g, 'rect', {x: opt.axisX - 18, y: y - 3, width: 18, height: 6, fill: '#222'}, 'y-tick-' + i);
    const overhang = /_f$/.test(label) ? 12 : 0;
    const t = mk(g, 'text', {x: opt.axisX - 25 - overhang, y: y + 20, 'text-anchor': 'end', 'font-size': 56.5, 'font-style': 'italic', fill: GREY}, 'taxon-label-' + i);
    const m = label.match(/^(.*?)(UCG−\d+|NK4A214|ND3007)(.*)$/);
    if (m) {
      t.appendChild(document.createTextNode(m[1]));
      const sp = document.createElementNS(NS, 'tspan');
      sp.setAttribute('font-size', '50');
      sp.textContent = m[2];
      t.appendChild(sp);
      t.appendChild(document.createTextNode(m[3]));
    } else {
      t.textContent = label;
    }
  });
  mk(g, 'rect', {x: opt.axisX - 3, y: opt.top, width: 5.5, height: opt.axisY - opt.top + 3, fill: '#111'}, 'y-axis-line');
  mk(g, 'rect', {x: opt.axisX - 3, y: opt.axisY - 3, width: 1144, height: 5.5, fill: '#111'}, 'x-axis-line');
  opt.ticks.forEach(function (v) {
    mk(g, 'rect', {x: x(v) - 2.5, y: opt.axisY, width: 5, height: 17, fill: '#222'}, 'x-tick');
    const lb = mk(g, 'text', {x: x(v), y: opt.axisY + 57, 'text-anchor': 'middle', 'font-size': 38, fill: GREY}, 'x-tick-label');
    lb.textContent = (v < 0 ? '−' : '') + Math.abs(v).toFixed(1);
  });
}
effectPanel(document.getElementById('panelE'), {
  taxa: taxaE, values: effectE, phyla: phylumE, ticks: ticksE, zero: 3398, slope: 1279, axisX: 2833,
  firstRow: 1296, rowGap: 60.68, top: 1261, stripX: 2840, stripW: 46, stripEnd: 2477, axisY: 2485,
  posColor: '#ffd700', negColor: '#0000ff'
});
effectPanel(document.getElementById('panelF'), {
  taxa: taxaF, values: effectF, phyla: phylumF, ticks: ticksF, zero: 3283, slope: 1135, axisX: 2833,
  firstRow: 2757, rowGap: 60.65, top: 2721, stripX: 2844, stripW: 44, stripEnd: 3937, axisY: 3947,
  posColor: '#40e0d0', negColor: '#a020f0'
});
</script>
</body>
</html>
